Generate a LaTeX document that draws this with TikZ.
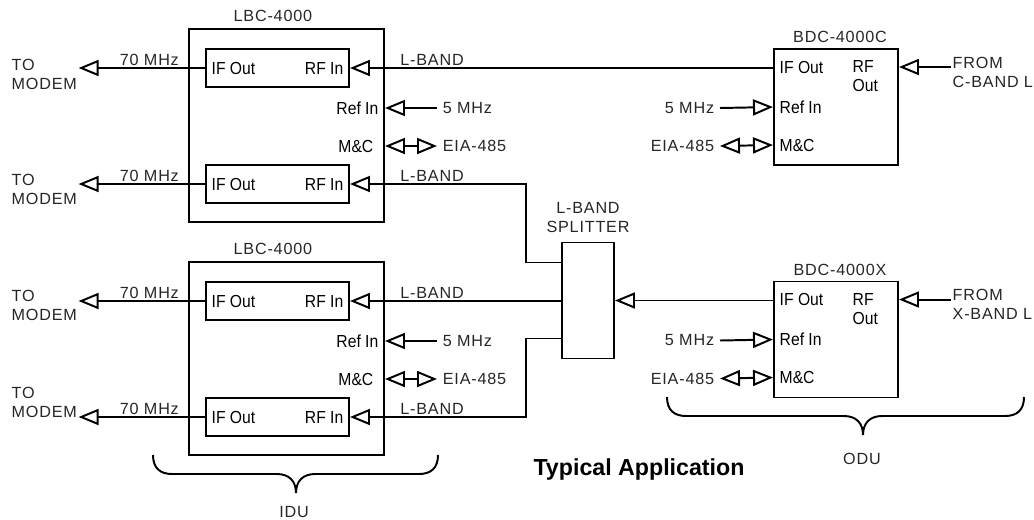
\documentclass[tikz,border=0pt]{standalone}
\usepackage{fontspec}
\setmainfont{Liberation Sans}
\newfontfamily\tagfont[LetterSpace=5]{Liberation Sans}
\newfontfamily\portfont[FakeStretch=0.9]{Liberation Sans}
\usetikzlibrary{arrows.meta, positioning, calc}
\tikzset{
  Box/.style    = {draw, line width=1.4pt, inner sep=0pt},
  Unit/.style   = {Box, minimum width=48.75mm, minimum height=48.25mm},
  Conv/.style   = {Box, minimum width=35.75mm, minimum height=9.5mm},
  Down/.style   = {Box, minimum width=31mm, minimum height=29mm},
  Split/.style  = {Box, minimum width=13mm, minimum height=29mm},
  Port/.style   = {font=\portfont\fontsize{12.4}{13.5}\selectfont, inner sep=1pt, align=left},
  Tag/.style    = {font=\tagfont\fontsize{11.5}{13.5}\selectfont, text=black!85,
                   inner sep=1pt, align=left},
  Wire/.style   = {line width=1.4pt},
  Feed/.style   = {Wire, {Triangle[open, length=5mm, width=4mm]}-},
  BiFeed/.style = {Wire, {Triangle[open, length=5mm, width=4mm]}-{Triangle[open, length=5mm, width=4mm]}},
}

\begin{document}
\begin{tikzpicture}[x=0.25mm, y=-0.25mm]
  \useasboundingbox (0,0) rectangle (1034,519);

  % indoor L-band converters
  \foreach \nm/\ty/\ma/\mb in {a/29/74/189.5, b/262/305/402} {
    \node[Unit] (lbc\nm) at (286.5, \ty+96.5) {};
    \node[Tag, above=3pt of lbc\nm.north, xshift=-3.4mm] {LBC-4000};
    \node[Conv] (conv\nm1) at (277.5, \ty+39) {};
    \node[Conv] (conv\nm2) at (277.5, \ty+155) {};
    \node[Tag, anchor=west] (modem\nm1) at (10, \ma) {TO\\MODEM};
    \node[Tag, anchor=west] (modem\nm2) at (10, \mb) {TO\\MODEM};
    \foreach \p in {1,2} {
      \node[Port, anchor=west] at ($(conv\nm\p.west)+(5,0)$) {IF Out};
      \node[Port, anchor=east] at ($(conv\nm\p.east)+(-5,0)$) {RF In};
      \draw[Feed] (modem\nm\p.east |- conv\nm\p.west) -- (conv\nm\p.west)
        node[Tag, pos=0.56, above] {70 MHz};
    }
    \node[Port, anchor=east] (ref\nm) at (380, \ty+79) {Ref In};
    \node[Port, anchor=east] (mc\nm) at (375, \ty+117) {M\&C};
    \node[Tag, anchor=west, inner sep=4pt] (fivel\nm) at (437, \ty+79) {5 MHz};
    \node[Tag, anchor=west, inner sep=4pt] (eial\nm) at (437, \ty+117) {EIA-485};
    \draw[Feed] (lbc\nm.east |- fivel\nm.west) -- (fivel\nm.west);
    \draw[BiFeed] (lbc\nm.east |- eial\nm.west) -- (eial\nm.west);
  }

  % outdoor block down converters
  \foreach \nm/\ty/\band in {c/49/C, x/281.5/X} {
    \node[Down] (bdc\nm) at (836, \ty+58) {};
    \node[Tag, above=2.5pt of bdc\nm.north, xshift=1mm] {BDC-4000\band};
    \node[Port, anchor=west] (if\nm) at ($(bdc\nm.north west)+(5,19)$) {IF Out};
    \node[Port, anchor=west] (rf\nm) at ($(bdc\nm.north west)+(78,28.5)$) {RF\\Out};
    \node[Port, anchor=west] (ref\nm) at ($(bdc\nm.north west)+(5,59)$) {Ref In};
    \node[Port, anchor=west] (mc\nm) at ($(bdc\nm.north west)+(5,97)$) {M\&C};
    \node[Tag, anchor=west] (from\nm) at (951, \ty+23) {FROM\\\band-BAND L};
    \node[Tag, anchor=east, inner sep=4pt] (fived\nm) at (720, \ty+59) {5 MHz};
    \node[Tag, anchor=east, inner sep=4pt] (eiad\nm) at (720, \ty+97) {EIA-485};
    \draw[Feed] (bdc\nm.east |- if\nm) -- (from\nm.west |- if\nm);
    \draw[Feed] (bdc\nm.west |- ref\nm) -- (fived\nm.east);
    \draw[BiFeed] (bdc\nm.west |- mc\nm) -- (eiad\nm.east);
  }

  % splitter
  \node[Split] (split) at (588, 300.5) {};
  \node[Tag, align=center, above=5pt of split] {L-BAND\\SPLITTER};
  \coordinate (sp1) at ($(split.west)+(0,-38)$);
  \coordinate (sp3) at ($(split.west)+(0,38)$);
  \coordinate (jog) at (526, 0);

  % L-band feeds
  \draw[Feed] (conva1.east) node[Tag, above right, xshift=12mm] {L-BAND}
    -- (conva1.east -| bdcc.west);
  \draw[Feed] (conva2.east) node[Tag, above right, xshift=12mm] {L-BAND}
    -| (jog |- sp1) -- (sp1);
  \draw[Feed] (convb1.east) node[Tag, above right, xshift=12mm] {L-BAND}
    -- (convb1.east -| split.west);
  \draw[Feed] (convb2.east) node[Tag, above right, xshift=12mm] {L-BAND}
    -| (jog |- sp3) -- (sp3);
  \draw[Feed] (split.east) -- (split.east -| bdcx.west);

  % braces
  \draw[Wire] (153,455) .. controls +(0,13) and +(-12,0) .. ++(19,19) -- (277,474)
    .. controls +(12,0) and +(0,-12) .. ++(19,19)
    .. controls +(0,-12) and +(-12,0) .. ++(19,-19) -- (419,474)
    .. controls +(12,0) and +(0,13) .. ++(19,-19);
  \draw[Wire] (667,397) .. controls +(0,13) and +(-12,0) .. ++(19,19) -- (844,416)
    .. controls +(12,0) and +(0,-12) .. ++(19,19)
    .. controls +(0,-12) and +(-12,0) .. ++(19,-19) -- (1005,416)
    .. controls +(12,0) and +(0,13) .. ++(19,-19);
  \node[Tag] (idu) at (294, 512) {IDU};
  \node[Tag] (odu) at (862, 459) {ODU};
  \node[font=\bfseries\fontsize{16.5}{20}\selectfont, anchor=base] (title) at (639, 475) {Typical Application};
\end{tikzpicture}
\end{document}
